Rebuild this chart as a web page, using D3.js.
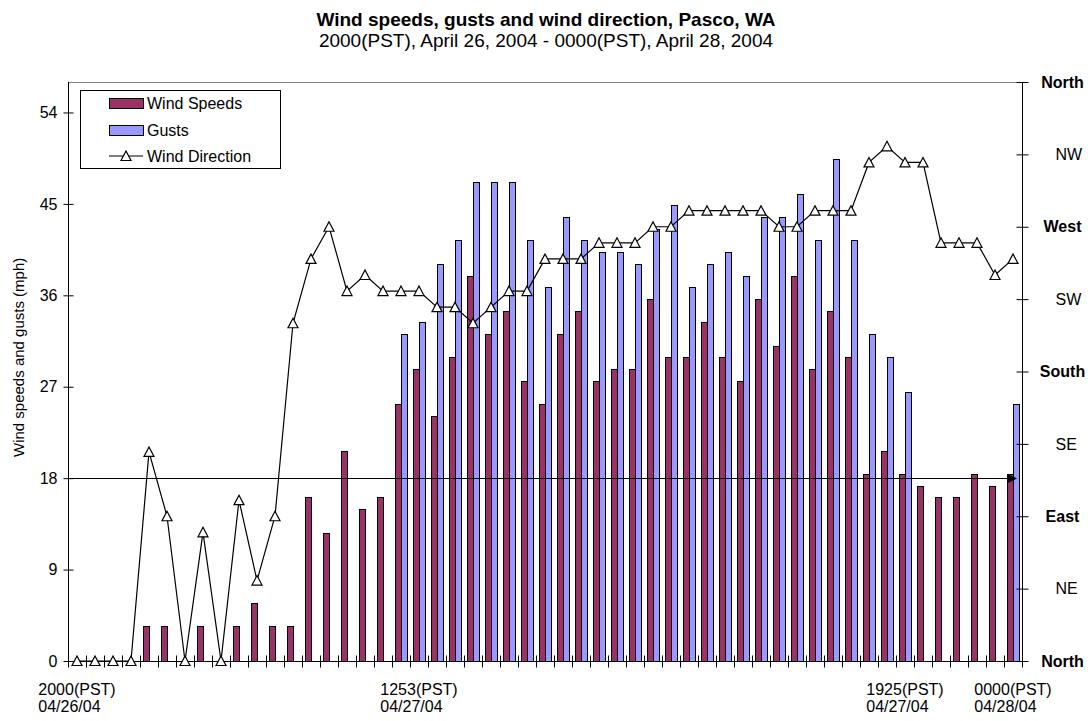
<!DOCTYPE html>
<html>
<head>
<meta charset="utf-8">
<script src="https://cdn.jsdelivr.net/npm/d3@7"></script>
<style>
  body { margin: 0; background: #fff; }
  svg { display: block; font-family: "Liberation Sans", Arial, sans-serif; }
</style>
</head>
<body>
<svg id="chart" width="1092" height="721"></svg>
<script>
// Observations, 2000 PST Apr 26 through 0000 PST Apr 28, 2004 (mph, degrees)
const windSpeeds = [
  0, 0, 0, 0, 3.45, 3.45, 0, 3.45, 0, 3.45,
  5.75, 3.45, 3.45, 16.1, 12.65, 20.7, 14.95, 16.1, 25.3, 28.75,
  24.15, 29.9, 37.95, 32.2, 34.5, 27.6, 25.3, 32.2, 34.5, 27.6,
  28.75, 28.75, 35.65, 29.9, 29.9, 33.35, 29.9, 27.6, 35.65, 31.05,
  37.95, 28.75, 34.5, 29.9, 18.4, 20.7, 18.4, 17.25, 16.1, 16.1,
  18.4, 17.25, 18.4
];
const gusts = [
  null, null, null, null, null, null, null, null, null, null,
  null, null, null, null, null, null, null, null, 32.2, 33.35,
  39.1, 41.4, 47.15, 47.15, 47.15, 41.4, 36.8, 43.7, 41.4, 40.25,
  40.25, 39.1, 42.55, 44.85, 36.8, 39.1, 40.25, 37.95, 43.7, 43.7,
  46, 41.4, 49.45, 41.4, 32.2, 29.9, 26.45, null, null, null,
  null, null, 25.3
];
const windDirection = [
  0, 0, 0, 0, 130, 90, 0, 80, 0, 100,
  50, 90, 210, 250, 270, 230, 240, 230, 230, 230,
  220, 220, 210, 220, 230, 230, 250, 250, 250, 260,
  260, 260, 270, 270, 280, 280, 280, 280, 280, 270,
  270, 280, 280, 280, 310, 320, 310, 310, 260, 260,
  260, 240, 250
];

const speedTicks = [0, 9, 18, 27, 36, 45, 54];
const speedMax = 57;
const directionTicks = [0, 45, 90, 135, 180, 225, 270, 315, 360];
const directionLabels = ["North", "NE", "East", "SE", "South", "SW", "West", "NW", "North"];
const directionCardinal = [true, false, true, false, true, false, true, false, true];

const timeLabelIndex = [0, 19, 46, 52];
const timeLabelTime = ["2000(PST)", "1253(PST)", "1925(PST)", "0000(PST)"];
const timeLabelDate = ["04/26/04", "04/27/04", "04/27/04", "04/28/04"];

const referenceSpeed = 18;

const seriesNames = ["Wind Speeds", "Gusts", "Wind Direction"];
const colSpeed = "#993366";
const colGust = "#9999ff";

// ---- layout ----
const svg = d3.select("#chart");
const plot = { left: 68, right: 1022, top: 82, bottom: 661 };
const n = windSpeeds.length;

const x = d3.scaleBand().domain(d3.range(n)).range([plot.left, plot.right]).padding(0);
const bw = x.bandwidth();
const barW = bw / 3;
const y = d3.scaleLinear().domain([0, speedMax]).range([plot.bottom, plot.top]);
const y2 = d3.scaleLinear().domain([0, 360]).range([plot.bottom, plot.top]);
const cx = i => x(i) + bw / 2;

// titles
svg.append("text").attr("x", 546).attr("y", 26).attr("text-anchor", "middle")
  .attr("font-size", 19).attr("font-weight", "bold")
  .text("Wind speeds, gusts and wind direction, Pasco, WA");
svg.append("text").attr("x", 546).attr("y", 47).attr("text-anchor", "middle")
  .attr("font-size", 19)
  .text("2000(PST), April 26, 2004 - 0000(PST), April 28, 2004");

// plot frame top edge
svg.append("line").attr("x1", plot.left).attr("x2", plot.right)
  .attr("y1", plot.top + 0.5).attr("y2", plot.top + 0.5)
  .attr("stroke", "#808080").attr("stroke-width", 1);

// bars
const bars = svg.append("g").attr("stroke", "#000").attr("stroke-width", 1);
bars.selectAll("rect.speed")
  .data(windSpeeds.map((v, i) => ({ v, i })).filter(d => d.v > 0))
  .join("rect").attr("class", "speed")
  .attr("x", d => Math.round(cx(d.i) - barW) + 0.5)
  .attr("width", Math.round(barW))
  .attr("y", d => Math.round(y(d.v)) + 0.5)
  .attr("height", d => Math.round(y(0)) - Math.round(y(d.v)))
  .attr("fill", colSpeed);
bars.selectAll("rect.gust")
  .data(gusts.map((v, i) => ({ v, i })).filter(d => d.v != null && d.v > 0))
  .join("rect").attr("class", "gust")
  .attr("x", d => Math.round(cx(d.i)) + 0.5)
  .attr("width", Math.round(barW))
  .attr("y", d => Math.round(y(d.v)) + 0.5)
  .attr("height", d => Math.round(y(0)) - Math.round(y(d.v)))
  .attr("fill", colGust);

// reference line at 18 mph with arrowhead
const ry = Math.round(y(referenceSpeed)) + 0.5;
const rEnd = plot.right - 5;
svg.append("line").attr("x1", plot.left).attr("x2", rEnd - 4)
  .attr("y1", ry).attr("y2", ry).attr("stroke", "#000").attr("stroke-width", 1);
svg.append("path")
  .attr("d", `M${rEnd - 9},${ry - 4.5}L${rEnd},${ry}L${rEnd - 9},${ry + 4.5}Z`)
  .attr("fill", "#000");

// left axis
const yAxis = svg.append("g").attr("transform", `translate(${plot.left + 0.5},0)`)
  .call(d3.axisLeft(y).tickValues(speedTicks).tickSizeOuter(0).tickSizeInner(5).tickPadding(6));
yAxis.select(".domain").attr("d", `M0,${plot.top}V${plot.bottom}`).attr("stroke", "#000");
yAxis.selectAll(".tick line").attr("x1", 5).attr("stroke", "#000");
yAxis.selectAll(".tick text").attr("font-size", 16).attr("fill", "#000")
  .attr("font-family", "Liberation Sans, Arial, sans-serif").attr("x", -11);

// right axis
const y2Axis = svg.append("g").attr("transform", `translate(${plot.right + 0.5},0)`)
  .call(d3.axisRight(y2).tickValues(directionTicks).tickSizeOuter(0).tickSizeInner(6)
    .tickFormat((d, i) => directionLabels[i]));
y2Axis.select(".domain").attr("d", `M0,${plot.top}V${plot.bottom}`).attr("stroke", "#000");
y2Axis.selectAll(".tick line").attr("x1", -6).attr("stroke", "#000");
y2Axis.selectAll(".tick text")
  .attr("font-size", 16).attr("fill", "#000")
  .attr("font-family", "Liberation Sans, Arial, sans-serif")
  .attr("font-weight", (d, i) => directionCardinal[i] ? "bold" : "normal")
  .attr("text-anchor", (d, i) => directionCardinal[i] ? "middle" : "start")
  .attr("x", (d, i) => directionCardinal[i] ? 40 : 33);

// bottom axis: ticks on category boundaries
const xb = d3.scaleLinear().domain([0, n]).range([plot.left, plot.right]);
const xAxis = svg.append("g").attr("transform", `translate(0,${plot.bottom + 0.5})`)
  .call(d3.axisBottom(xb).tickValues(d3.range(n + 1)).tickFormat("").tickSizeOuter(0).tickSizeInner(6));
xAxis.select(".domain").attr("d", `M${plot.left},0H${plot.right}`).attr("stroke", "#000");
xAxis.selectAll(".tick line").attr("y1", -6).attr("stroke", "#000");

// category labels (two-line blocks centred on their category)
timeLabelIndex.forEach((idx, k) => {
  const g = svg.append("g");
  const t1 = g.append("text").attr("y", 695).attr("font-size", 16).text(timeLabelTime[k]);
  const t2 = g.append("text").attr("y", 712).attr("font-size", 16).text(timeLabelDate[k]);
  const w = Math.max(t1.node().getComputedTextLength(), t2.node().getComputedTextLength());
  const left = cx(idx) - w / 2;
  t1.attr("x", left); t2.attr("x", left);
});

// y axis title
svg.append("text")
  .attr("transform", "translate(24,457) rotate(-90)")
  .attr("font-size", 15).text("Wind speeds and gusts (mph)");

// wind direction line + markers
const tri = "M0,-5L5,4.5L-5,4.5Z";
svg.append("path")
  .datum(windDirection)
  .attr("d", d3.line().x((d, i) => cx(i)).y(d => y2(d)))
  .attr("fill", "none").attr("stroke", "#000").attr("stroke-width", 1.2);
svg.append("g").selectAll("path")
  .data(windDirection).join("path")
  .attr("transform", (d, i) => `translate(${cx(i)},${y2(d)})`)
  .attr("d", tri).attr("fill", "#fff").attr("stroke", "#000").attr("stroke-width", 1.2);

// legend
const lg = svg.append("g");
lg.append("rect").attr("x", 80.5).attr("y", 90.5).attr("width", 200).attr("height", 78)
  .attr("fill", "#fff").attr("stroke", "#000");
lg.append("rect").attr("x", 109.5).attr("y", 98.5).attr("width", 34).attr("height", 10)
  .attr("fill", colSpeed).attr("stroke", "#000");
lg.append("rect").attr("x", 109.5).attr("y", 125.5).attr("width", 34).attr("height", 10)
  .attr("fill", colGust).attr("stroke", "#000");
lg.append("line").attr("x1", 109).attr("x2", 143).attr("y1", 156).attr("y2", 156)
  .attr("stroke", "#000").attr("stroke-width", 1.2);
lg.append("path").attr("transform", "translate(126,156)").attr("d", tri)
  .attr("fill", "#fff").attr("stroke", "#000").attr("stroke-width", 1.2);
[109, 136, 162].forEach((yy, k) => {
  lg.append("text").attr("x", 147).attr("y", yy).attr("font-size", 16).text(seriesNames[k]);
});
</script>
</body>
</html>
